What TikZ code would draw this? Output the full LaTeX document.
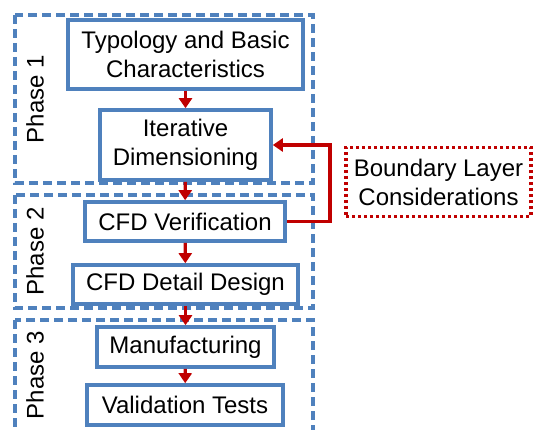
\documentclass[tikz,border=0pt]{standalone}
\usepackage{fontspec}
\setmainfont{Liberation Sans}
\usetikzlibrary{arrows.meta}

\definecolor{boxblue}{RGB}{79,129,189}
\definecolor{flowred}{RGB}{192,0,0}

\tikzset{
  stepbox/.style={draw=boxblue, line width=3.6pt, fill=white, align=center,
    inner sep=0pt, font=\fontsize{24}{29}\selectfont},
  phasebox/.style={draw=boxblue, line width=3.4pt, dash pattern=on 9pt off 5pt},
  phaselabel/.style={rotate=90, font=\fontsize{24}{29}\selectfont},
  flow/.style={draw=flowred, line width=3.2pt, -{Triangle[width=13pt,length=10pt]}},
  notebox/.style={draw=flowred, line width=3.2pt, dash pattern=on 3pt off 3pt,
    align=center, inner sep=0pt, font=\fontsize{24}{29}\selectfont}
}

\begin{document}
\begin{tikzpicture}[x=1pt, y=-1pt]
  \useasboundingbox (0,0) rectangle (535,430);

  % phase frames
  \draw[phasebox] (15,15) rectangle (313,183);
  \draw[phasebox] (15,195) rectangle (313,308);
  \begin{scope}
    \clip (0,0) rectangle (535,430);
    \draw[phasebox] (15,320) rectangle (313,445);
  \end{scope}

  \node[phaselabel] (ph1) at (35,99) {Phase 1};
  \node[phaselabel] (ph2) at (35,251.5) {Phase 2};
  \node[phaselabel] (ph3) at (35,375) {Phase 3};

  % steps
  \node[stepbox, minimum width=235pt, minimum height=69pt] (typ) at (185.5,54.5)
    {Typology and Basic\\Characteristics};
  \node[stepbox, minimum width=171pt, minimum height=70pt] (iter) at (185.5,145)
    {Iterative\\Dimensioning};
  \node[stepbox, minimum width=200pt, minimum height=39pt] (verif) at (185,221.5)
    {CFD Verification};
  \node[stepbox, minimum width=225pt, minimum height=39pt] (detail) at (185.5,284.5)
    {CFD Detail Design};
  \node[stepbox, minimum width=177pt, minimum height=40pt] (manuf) at (185.5,347)
    {Manufacturing};
  \node[stepbox, minimum width=196pt, minimum height=40pt] (valid) at (185,405)
    {Validation Tests};

  \node[notebox, minimum width=185pt, minimum height=69pt] (bl) at (438.5,182)
    {Boundary Layer\\Considerations};

  % flow
  \draw[flow] (typ) -- (iter);
  \draw[flow] (iter) -- (verif);
  \draw[flow] (verif) -- (detail);
  \draw[flow] (detail) -- (manuf);
  \draw[flow] (manuf) -- (valid);

  % feedback loop
  \coordinate (loop) at (330,145);
  \draw[flow] (verif.east) -| (loop) -- (iter.east);
\end{tikzpicture}
\end{document}
